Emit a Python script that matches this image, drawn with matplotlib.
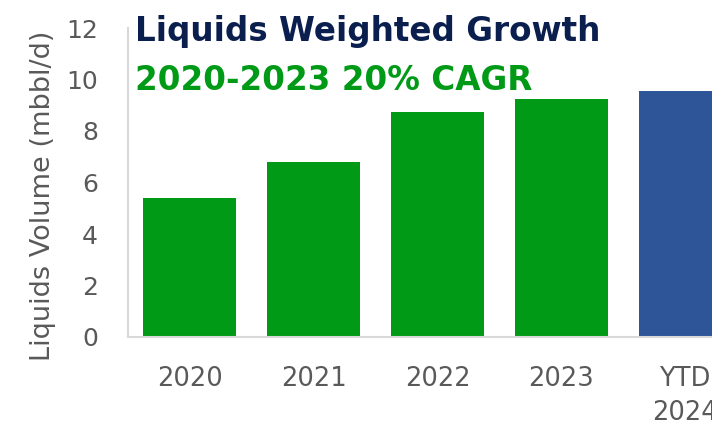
import matplotlib.pyplot as plt
import numpy as np

# Liquids volume by year (mbbl/d)
years = ['2020', '2021', '2022', '2023', 'YTD\n2024']
volumes = [5.4, 6.8, 8.75, 9.25, 9.55]
bar_colors = ['#009A17', '#009A17', '#009A17', '#009A17', '#2E5597']

W, H = 712, 429
fig = plt.figure(figsize=(W / 100, H / 100), dpi=100)

# axes run past the right edge, so the last bar gets cut off
left, right, bottom, top = 128, 747, 337, 28
ax = fig.add_axes([left / W, (H - bottom) / H, (right - left) / W, (bottom - top) / H])

x = np.arange(len(years))
ax.bar(x, volumes, width=0.75, color=bar_colors, zorder=2)

ax.set_xlim(-0.5, len(years) - 0.5)
ax.set_ylim(0, 12)
ax.set_yticks(range(0, 13, 2))
ax.set_xticks(x)
ax.set_xticklabels(years, linespacing=1.4)
ax.tick_params(axis='both', length=0, labelcolor='#595959')
ax.tick_params(axis='x', pad=21, labelsize=18.5)
ax.tick_params(axis='y', pad=21.5, labelsize=18)

for side in ['top', 'right']:
    ax.spines[side].set_visible(False)
for side in ['left', 'bottom']:
    ax.spines[side].set_color('#D9D9D9')
    ax.spines[side].set_linewidth(1.5)

fig.text(43 / W, 1 - 196 / H, 'Liquids Volume (mbbl/d)', fontsize=19.5, color='#595959',
         rotation=90, ha='center', va='center')

fig.text(135 / W, 1 - 41 / H, 'Liquids Weighted Growth', fontsize=23.5, fontweight='bold',
         color='#0B1F4F', va='baseline', ha='left')
fig.text(135 / W, 1 - 90 / H, '2020-2023 20% CAGR', fontsize=23.5, fontweight='bold',
         color='#009A17', va='baseline', ha='left')

fig.savefig('out.png', dpi=100)
